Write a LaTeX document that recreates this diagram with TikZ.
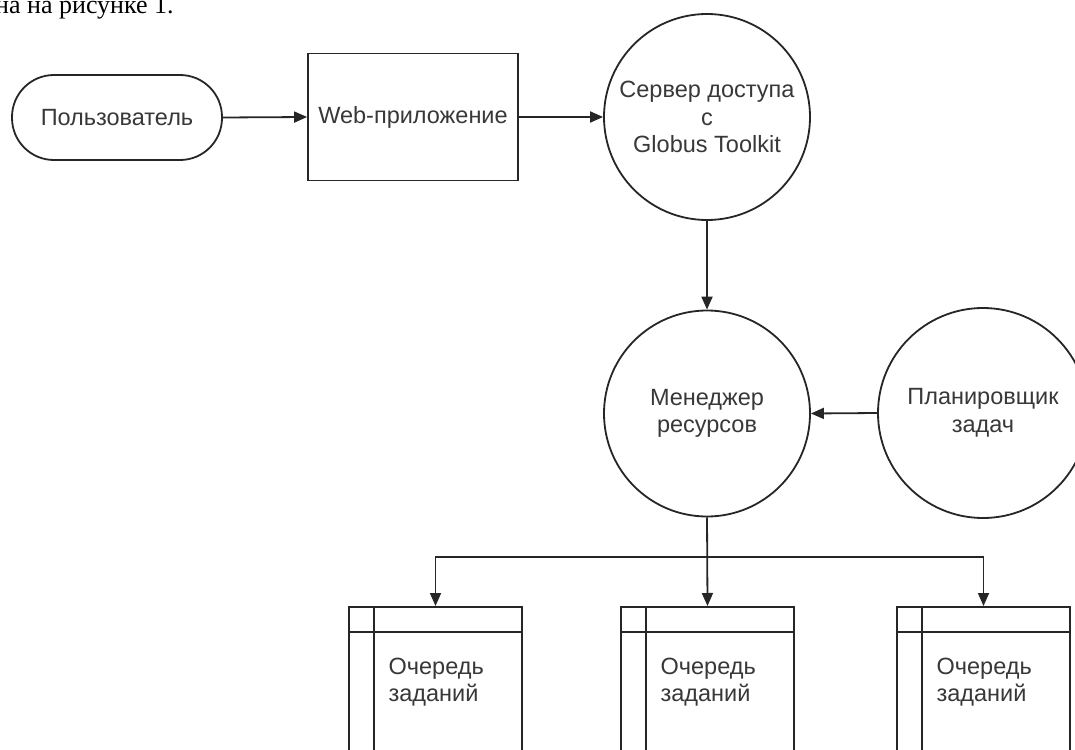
\documentclass[tikz,border=0pt]{standalone}
\usepackage{fontspec}
\setmainfont{Liberation Sans}
\newfontfamily\timesf{Liberation Serif}
\usetikzlibrary{arrows.meta}
\begin{document}
\begin{tikzpicture}[x=1pt,y=-1pt,
  every node/.style={font=\fontsize{23.5}{27.5}\selectfont, text=black!78},
  line/.style={draw=black!85, line width=1.8pt},
  arr/.style={line, -{Triangle[length=13pt,width=11pt]}},
  bubble/.style={line, circle, minimum size=206pt, inner sep=0pt, align=center},
  queuebox/.style={line, rectangle, minimum width=173pt, minimum height=200pt, inner sep=0pt, anchor=north},
  qtext/.style={anchor=west, align=left}
]
\clip (0,0) rectangle (1075,749);
\fill[white] (0,0) rectangle (1075,749);

\node[anchor=base west, inner sep=0pt, font=\timesf\fontsize{26}{30}\selectfont, text=black] (caption) at (-5,14) {на на рисунке 1.};

\node[line, rectangle, rounded corners=42pt, minimum width=210pt, minimum height=85pt, inner sep=0pt] (user) at (117,117.5) {Пользователь};
\node[line, rectangle, minimum width=210pt, minimum height=127pt, inner sep=0pt] (web) at (413,117) {Web-приложение};
\node[bubble] (server) at (707,117) {Сервер доступа\\с\\Globus Toolkit};
\node[bubble] (mgr) at (707,413.5) {Менеджер\\ресурсов};
\node[bubble, minimum size=210pt] (plan) at (983,413) {Планировщик\\задач};

\node[queuebox] (q1) at (435.5,606) {};
\node[queuebox] (q2) at (707.5,606) {};
\node[queuebox] (q3) at (983.5,606) {};
\foreach \q in {q1,q2,q3} {
  \draw[line] ([xshift=26pt]\q.north west) -- ([xshift=26pt]\q.south west);
  \draw[line] ([yshift=-26pt]\q.north west) -- ([yshift=-26pt]\q.north east);
}
\node[qtext] (q1t) at ([xshift=37pt,yshift=-76pt]q1.north west) {Очередь\\заданий};
\node[qtext] (q2t) at ([xshift=37pt,yshift=-76pt]q2.north west) {Очередь\\заданий};
\node[qtext] (q3t) at ([xshift=37pt,yshift=-76pt]q3.north west) {Очередь\\заданий};

\draw[arr] (user.east) -- (web.west);
\draw[arr] (web.east) -- (server.west);
\draw[arr] (server.south) -- (mgr.north);
\draw[arr] (plan.west) -- (mgr.east);
\coordinate (split) at (707,557);
\draw[arr] (mgr.south) -- (q2.north);
\draw[arr] (split) -| (q1.north);
\draw[arr] (split) -| (q3.north);
\end{tikzpicture}
\end{document}
